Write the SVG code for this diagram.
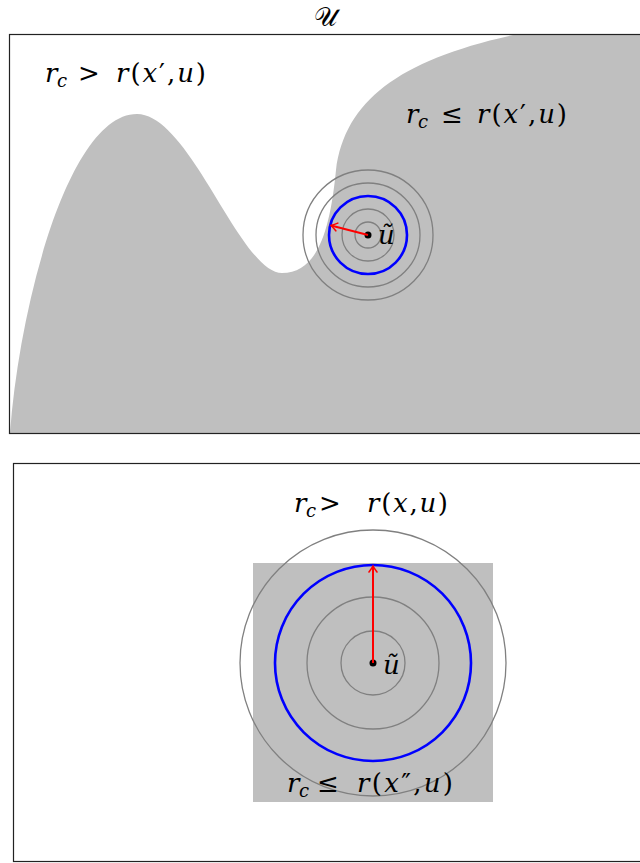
<svg xmlns="http://www.w3.org/2000/svg" width="640" height="863" viewBox="0 0 640 863">
<defs>
<style>
.i{font-family:"DejaVu Serif","Liberation Serif",serif;font-style:italic;font-size:26px;fill:#000}
.up{font-family:"DejaVu Serif","Liberation Serif",serif;font-style:normal;font-size:26px;fill:#000}
.sub{font-family:"DejaVu Serif","Liberation Serif",serif;font-style:italic;font-size:18px;fill:#000}
.scr{font-family:"DejaVu Sans","Noto Sans",serif;font-size:26px;fill:#000}
.frame{fill:none;stroke:#222;stroke-width:1.2}
.region{fill:#bfbfbf;stroke:none}
.ring{fill:none;stroke:#808080;stroke-width:1.3}
.ball{fill:none;stroke:#0000ff;stroke-width:2.6}
.radius{stroke:#ff0000;stroke-width:2;fill:none}
.dot{fill:#000}
</style>
<marker id="tip" viewBox="-8 -6 10 12" markerWidth="10" markerHeight="12" refX="0" refY="0" orient="auto" markerUnits="userSpaceOnUse">
<path d="M -6,-4 Q -2,-1 0,0 Q -2,1 -6,4" fill="none" stroke="#ff0000" stroke-width="1.6" stroke-linecap="round"/>
</marker>
</defs>

<text class="scr" x="325" y="26" text-anchor="middle">𝒰</text>

<g id="panel-top">
<path class="region" d="M 10,433 C 20,300 70,114 137,114 C 190,114 240,273 282,273 C 318,273 330,230 336,170 C 345,100 400,60 513,35 L 640,35 L 640,433 Z"/>
<rect class="frame" x="9.5" y="34.5" width="640" height="399"/>
</g>

<g id="label-top-left">
<text class="i" x="45" y="82">r</text>
<text class="sub" x="57" y="87">c</text>
<text class="up" x="78" y="82">&gt;</text>
<text class="up" x="116" y="82" textLength="90" lengthAdjust="spacing"><tspan class="i">r</tspan>(<tspan class="i">x</tspan>′,<tspan class="i">u</tspan>)</text>
</g>

<g id="label-top-right">
<text class="i" x="406" y="123">r</text>
<text class="sub" x="418" y="128">c</text>
<text class="up" x="441" y="123">≤</text>
<text class="up" x="477" y="123" textLength="90" lengthAdjust="spacing"><tspan class="i">r</tspan>(<tspan class="i">x</tspan>′,<tspan class="i">u</tspan>)</text>
</g>

<g id="balls-top">
<circle class="ring" cx="368" cy="235" r="13"/>
<circle class="ring" cx="368" cy="235" r="26"/>
<circle class="ball" cx="368" cy="235" r="39"/>
<circle class="ring" cx="368" cy="235" r="52"/>
<circle class="ring" cx="368" cy="235" r="65"/>
<circle class="dot" cx="368" cy="235" r="3.5"/>
<text class="i" x="378" y="244">ũ</text>
</g>

<g id="panel-bottom">
<rect class="frame" x="13.5" y="463.5" width="640" height="398"/>
<rect class="region" x="253" y="563" width="240" height="239"/>
</g>

<g id="label-bottom-top">
<text class="i" x="294" y="512">r</text>
<text class="sub" x="306" y="517">c</text>
<text class="up" x="319" y="512">&gt;</text>
<text class="up" x="367" y="512" textLength="81" lengthAdjust="spacing"><tspan class="i">r</tspan>(<tspan class="i">x</tspan>,<tspan class="i">u</tspan>)</text>
</g>

<g id="balls-bottom">
<circle class="ring" cx="373" cy="663" r="32"/>
<circle class="ring" cx="373" cy="663" r="66"/>
<circle class="ball" cx="373" cy="663" r="98"/>
<circle class="ring" cx="373" cy="663" r="133"/>
<circle class="dot" cx="373" cy="663" r="3.5"/>
<text class="i" x="383" y="674">ũ</text>
</g>

<g id="label-bottom-bottom">
<text class="i" x="287" y="792">r</text>
<text class="sub" x="299" y="797">c</text>
<text class="up" x="317" y="792">≤</text>
<text class="up" x="357" y="792" textLength="96" lengthAdjust="spacing"><tspan class="i">r</tspan>(<tspan class="i">x</tspan>″,<tspan class="i">u</tspan>)</text>
</g>

<g id="connectors">
<line class="radius" x1="368" y1="235" x2="331" y2="225.5" marker-end="url(#tip)"/>
<line class="radius" x1="373" y1="663" x2="373" y2="566" marker-end="url(#tip)"/>
</g>
</svg>
